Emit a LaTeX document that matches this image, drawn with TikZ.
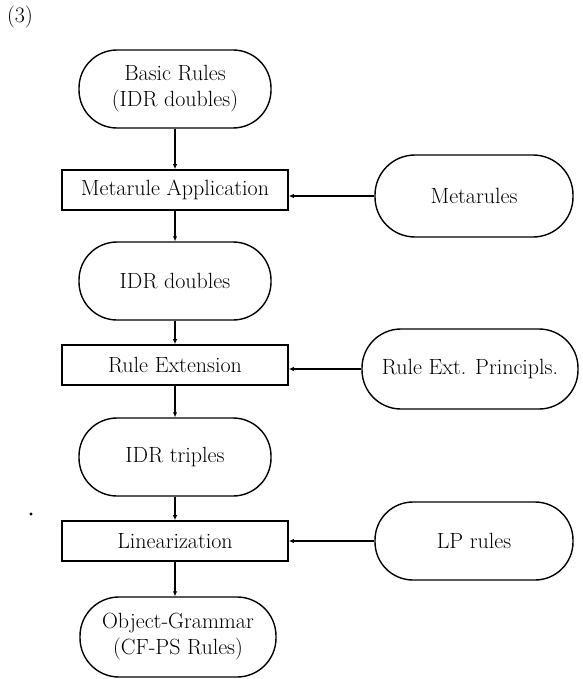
\documentclass[tikz,border=0pt]{standalone}
\usetikzlibrary{arrows.meta}
\begin{document}
\begin{tikzpicture}[x=1pt,y=-1pt,
  every node/.style={font=\fontsize{22}{26}\selectfont},
  stad/.style={draw,line width=1.4pt,rectangle,rounded corners=38pt,minimum height=78pt,minimum width=192pt,align=center,inner sep=2pt},
  proc/.style={draw,line width=1.6pt,rectangle,minimum height=40pt,minimum width=226pt,inner sep=2pt},
  conn/.style={line width=1.2pt,-{Latex[length=5pt,width=4.5pt]}}]
\useasboundingbox (0,0) rectangle (582,679);
\node (lab) at (20,17) {(3)};
\node[stad] (br) at (175,89) {Basic Rules\\(IDR doubles)};
\node[proc] (ma) at (175,190) {Metarule Application};
\node[stad,minimum width=198pt,minimum height=82pt,rounded corners=40pt] (mr) at (474,196) {Metarules};
\node[stad] (idd) at (175,281) {IDR doubles};
\node[proc] (re) at (175,365) {Rule Extension};
\node[stad,minimum width=216pt,minimum height=80pt,rounded corners=39pt] (rep) at (470,369) {Rule Ext. Principls.};
\node[stad] (idt) at (175,457) {IDR triples};
\node[proc] (lin) at (175,541) {Linearization};
\node[stad,minimum width=198pt] (lp) at (474,541) {LP rules};
\node[stad,minimum width=196pt,minimum height=80pt,rounded corners=39pt] (og) at (178,637) {Object-Grammar\\(CF-PS Rules)};
\fill (31,514) circle (1.6pt);
\draw[conn] (br) -- (ma);
\draw[conn] (ma) -- (idd);
\draw[conn] (mr.west) -- (ma.east |- mr.west);
\draw[conn] (idd) -- (re);
\draw[conn] (re) -- (idt);
\draw[conn] (rep.west) -- (re.east |- rep.west);
\draw[conn] (idt) -- (lin);
\draw[conn] (lin.south) -- (lin.south |- og.north);
\draw[conn] (lp) -- (lin);
\end{tikzpicture}
\end{document}
